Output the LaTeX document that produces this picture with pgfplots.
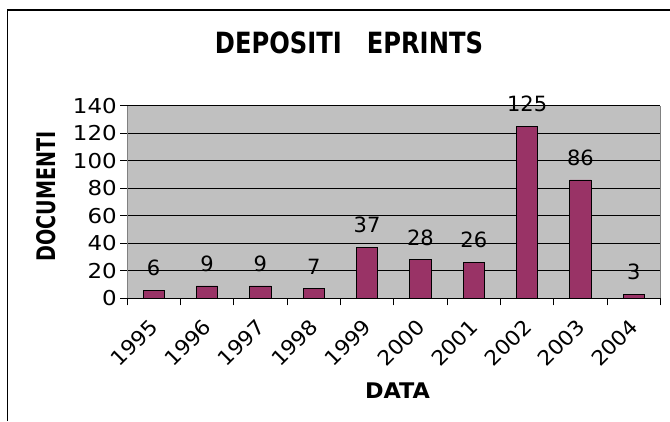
\documentclass[border=0pt]{standalone}
\usepackage{pgfplots}
\pgfplotsset{compat=1.18}
\usepackage{graphicx}
\usepackage{fontspec}
\setmainfont{DejaVu Sans}
\definecolor{barc}{HTML}{993366}
\definecolor{plotbg}{HTML}{C0C0C0}
\newcommand\xs[1]{\scalebox{1.12}[1]{#1}}
\newcommand\xl[1]{\scalebox{1.07}[1]{#1}}
\begin{document}
\begin{tikzpicture}[x=1pt,y=1pt]
\useasboundingbox (0,0) rectangle (670,421);
\draw[line width=1.5pt] (7.5,0) -- (7.5,411) -- (671,411);
\begin{axis}[
  at={(127pt,122.7pt)}, anchor=south west,
  scale only axis, width=533.5pt, height=192.6pt,
  xmin=-0.5, xmax=9.5, ymin=0, ymax=140,
  ybar, bar width=21.3pt,
  xtick={-0.5,0.5,...,9.5},
  xticklabels={\xl{1995},\xl{1996},\xl{1997},\xl{1998},\xl{1999},\xl{2000},\xl{2001},\xl{2002},\xl{2003},\xl{2004}},
  x tick label as interval,
  ytick={0,20,...,140},
  yticklabel={\xs{\pgfmathprintnumber{\tick}}},
  xtick pos=bottom, ytick pos=left,
  ymajorgrids, grid style={black, line width=0.8pt},
  tick align=outside, major tick length=7pt,
  tick style={black, line width=0.8pt},
  axis background/.style={fill=plotbg},
  separate axis lines,
  x axis line style={black, line width=0.8pt},
  y axis line style={gray, line width=0.8pt},
  /pgf/number format/assume math mode=true,
  ticklabel style={font=\fontsize{20.5}{21}\selectfont},
  xticklabel shift=12pt,
  xticklabel style={xshift=-5pt, rotate=45, anchor=north east, inner sep=0pt},
  yticklabel style={inner sep=3pt},
  nodes near coords,
  nodes near coords style={font=\fontsize{21}{21}\selectfont, anchor=south, inner sep=0pt, yshift=14pt, text=black},
]
\addplot[fill=barc, draw=black, line width=0.8pt] coordinates {(0,6) (1,9) (2,9) (3,7) (4,37) (5,28) (6,26) (7,125) (8,86) (9,3)};
\end{axis}
\node at (349,378.5) {\resizebox{268pt}{21.7pt}{\bfseries DEPOSITI\hspace{1.03em}EPRINTS}};
\node[rotate=90] at (46,224.3) {\resizebox{130pt}{19pt}{\bfseries DOCUMENTI}};
\node at (397.5,30.5) {\resizebox{65pt}{15.7pt}{\bfseries DATA}};
\end{tikzpicture}
\end{document}
